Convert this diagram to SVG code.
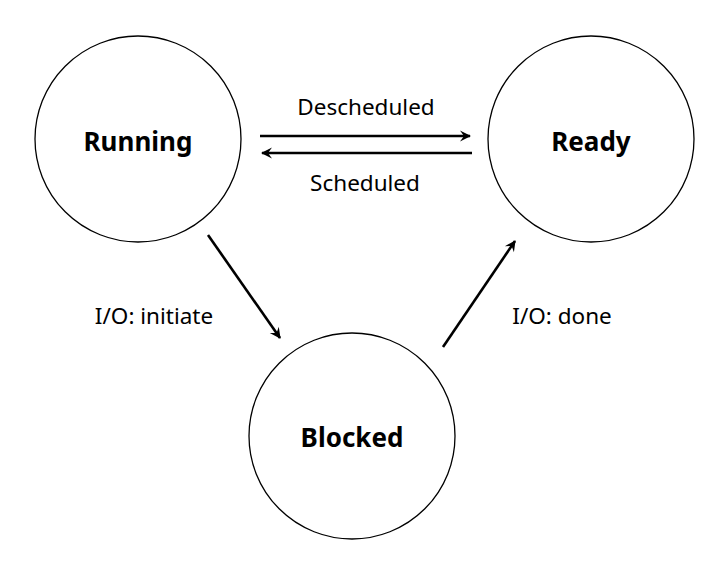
<svg xmlns="http://www.w3.org/2000/svg" width="710" height="570" viewBox="0 0 710 570">
<style>
.node{fill:#fff;stroke:#000;stroke-width:1.3}
.nl{font-family:"Noto Sans","Open Sans",sans-serif;font-weight:bold;font-size:26px;text-anchor:middle;fill:#000}
.el{font-family:"Noto Sans","Open Sans",sans-serif;font-size:22.5px;text-anchor:middle;fill:#000}
.edge{stroke:#000;stroke-width:2.6;fill:none;marker-end:url(#ah)}
</style>
<defs>
<marker id="ah" markerUnits="userSpaceOnUse" viewBox="-12 -7 14 14" refX="0" refY="0" markerWidth="14" markerHeight="14" orient="auto">
<path d="M1,0 L-10,-5.5 L-6,0 L-10,5.5 Z" fill="#000"/>
</marker>
</defs>
<rect width="710" height="570" fill="#fff"/>
<g id="running"><circle class="node" cx="138" cy="139" r="103"/><text class="nl" x="138" y="151">Running</text></g>
<g id="ready"><circle class="node" cx="591" cy="139" r="103"/><text class="nl" x="591" y="151">Ready</text></g>
<g id="blocked"><circle class="node" cx="352" cy="436" r="103"/><text class="nl" x="352" y="447">Blocked</text></g>
<g id="edges">
<line class="edge" x1="260" y1="136" x2="470" y2="136"/>
<line class="edge" x1="472" y1="153" x2="262" y2="153"/>
<line class="edge" x1="208" y1="235" x2="280" y2="338"/>
<line class="edge" x1="443" y1="347" x2="515" y2="241"/>
<text class="el" x="366" y="115">Descheduled</text>
<text class="el" x="365" y="191">Scheduled</text>
<text class="el" x="154" y="324">I/O: initiate</text>
<text class="el" x="562" y="324">I/O: done</text>
</g>
</svg>
